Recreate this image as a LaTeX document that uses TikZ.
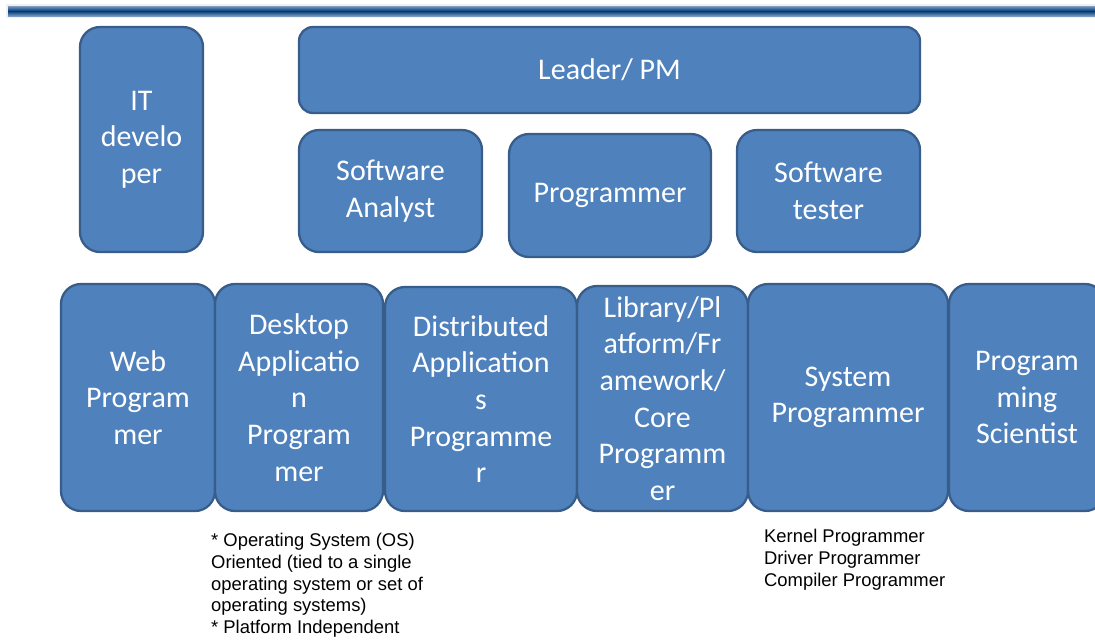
\documentclass[tikz,border=0pt]{standalone}
\usepackage{fontspec}
\usepackage{tikz}
\setmainfont{Carlito}
\newfontfamily\notefont{Liberation Sans}
\definecolor{boxfill}{HTML}{4F81BD}
\definecolor{boxline}{HTML}{385D8A}
\definecolor{bardark}{HTML}{003A78}
\definecolor{barlight}{HTML}{7E9CC0}

\begin{document}
\begin{tikzpicture}[
    x=1pt,y=-1pt,
    role/.style={draw=boxline, line width=2.3pt, fill=boxfill, rounded corners=20pt,
      text=white, align=center, inner sep=0pt,
      font=\fontsize{30}{36.6}\selectfont},
    note/.style={anchor=north west, align=left, inner sep=0pt,
      font=\notefont\fontsize{18.4}{21.8}\selectfont}
    ]
    \useasboundingbox (0, 0) rectangle (1095, 641);
    \fill[gray!12] (6, 4) rectangle (1095, 18);
    \shade[top color=barlight, bottom color=barlight, middle color=bardark] (8, 6) rectangle (1095, 16);
    \node[role, minimum width=123, minimum height=225] (itdev) at (141.5, 139.5) {IT\\develo\\per};
    \node[role, rounded corners=14pt, minimum width=621, minimum height=86] (leader) at (609.5, 70) {Leader/ PM};
    \node[role, minimum width=183, minimum height=122] (analyst) at (390.5, 191) {Software\\Analyst};
    \node[role, minimum width=202, minimum height=123] (prog) at (610, 195.5) {Programmer};
    \node[role, minimum width=183, minimum height=122] (tester) at (828.5, 191) {Software\\tester};
    \node[role, minimum width=154, minimum height=227] (web) at (138, 397.5) {Web\\Program\\mer};
    \node[role, minimum width=168, minimum height=227] (desktop) at (299, 397.5) {Desktop\\Applicatio\\n\\Program\\mer};
    \node[role, minimum width=192, minimum height=224] (distrib) at (481, 399) {Distributed\\Application\\s\\Programme\\r};
    \node[role, minimum width=171, minimum height=225] (library) at (662.5, 398.5) {Library/Pl\\atform/Fr\\amework/\\Core\\Programm\\er};
    \node[role, minimum width=200, minimum height=227] (system) at (848, 397.5) {System\\Programmer};
    \node[role, minimum width=156, minimum height=227] (scient) at (1027, 397.5) {Program\\ming\\Scientist};
    \node[note] (desknote) at (211, 533) {* Operating System (OS)\\Oriented (tied to a single\\operating system or set of\\operating systems)\\* Platform Independent};
    \node[note] (sysnote) at (764, 529) {Kernel Programmer\\Driver Programmer\\Compiler Programmer};
  \end{tikzpicture}
\end{document}
